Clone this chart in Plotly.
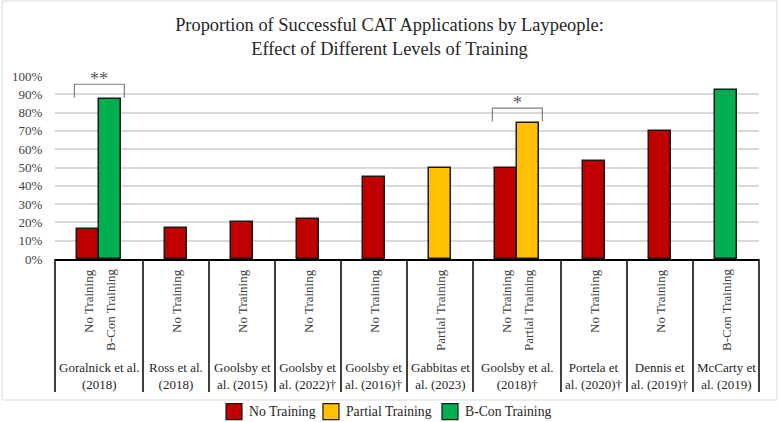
import plotly.graph_objects as go

# ---------------- data ----------------
title_lines = ["Proportion of Successful CAT Applications by Laypeople:",
               "Effect of Different Levels of Training"]
studies = ["Goralnick et al.<br>(2018)", "Ross et al.<br>(2018)", "Goolsby et<br>al. (2015)",
           "Goolsby et<br>al. (2022)†", "Goolsby et<br>al. (2016)†", "Gabbitas et<br>al. (2023)",
           "Goolsby et al.<br>(2018)†", "Portela et<br>al. (2020)†", "Dennis et<br>al. (2019)†",
           "McCarty et<br>al. (2019)"]
bar_study = [0, 0, 1, 2, 3, 4, 5, 6, 6, 7, 8, 9]
bar_level = ["No Training", "B-Con Training", "No Training", "No Training", "No Training",
             "No Training", "Partial Training", "No Training", "Partial Training",
             "No Training", "No Training", "B-Con Training"]
bar_value = [0.164, 0.875, 0.169, 0.203, 0.220, 0.447, 0.500, 0.500, 0.744, 0.537, 0.697, 0.922]
levels = ["No Training", "Partial Training", "B-Con Training"]
level_colors = {"No Training": "#C00000", "Partial Training": "#FFC000", "B-Con Training": "#00B050"}
sig_study = [0, 6]
sig_label = ["**", "*"]
y_ticks = [i / 10 for i in range(11)]

# ---------------- geometry ----------------
W, H = 779, 422
ML, MR, MT, MB = 55, 20, 76, 163
PT, PB = MT, H - MB
FONT = "Liberation Serif, Times New Roman, serif"
legend_px = [226, 323, 442]   # left edge (pixels) of each legend swatch
legend_cy = 411.7


def py(p):  # pixel y -> paper y
    return (PB - p) / (PB - PT)


def px(p):  # pixel x -> paper x
    return (p - ML) / (W - ML - MR)


counts = [bar_study.count(i) for i in range(len(studies))]
group_start = []
pos = 0
for c in counts:
    group_start.append(pos)
    pos += c + 2
total = pos
bar_x = []
seen = {}
for s in bar_study:
    k = seen.get(s, 0)
    seen[s] = k + 1
    bar_x.append(group_start[s] + 1 + k + 0.5)

fig = go.Figure()
for lv in levels:
    idx = [i for i, l in enumerate(bar_level) if l == lv]
    fig.add_trace(go.Bar(
        x=[bar_x[i] for i in idx], y=[bar_value[i] for i in idx], width=1,
        name=lv, marker=dict(color=level_colors[lv], line=dict(color="#1a1a1a", width=1.5)),
        hoverinfo="skip", showlegend=False))

shapes = []
annotations = []
# category box separators
for g in range(len(studies) + 1):
    xv = group_start[g] if g < len(studies) else total
    shapes.append(dict(type="line", xref="paper", yref="paper", x0=xv / total, x1=xv / total,
                       y0=0, y1=py(392), line=dict(color="black", width=1.5)))
# rotated bar labels
for i, s in enumerate(bar_study):
    annotations.append(dict(xref="paper", yref="paper", x=bar_x[i] / total, y=py(267),
                            text=bar_level[i], textangle=-90, showarrow=False,
                            xanchor="center", yanchor="top",
                            font=dict(family=FONT, size=13, color="#404040")))
# study labels
for g, lab in enumerate(studies):
    cx = (group_start[g] + counts[g] / 2 + 1) / total
    annotations.append(dict(xref="paper", yref="paper", x=cx, y=py(375.5), text=lab,
                            showarrow=False, xanchor="center", yanchor="middle",
                            font=dict(family=FONT, size=13, color="#262626")))
# significance brackets
for s, lab in zip(sig_study, sig_label):
    cx = group_start[s] + counts[s] / 2 + 1
    top = max(bar_value[i] for i, b in enumerate(bar_study) if b == s)
    x0, x1 = cx - 1.12, cx + 1.15
    y_leg, y_top = top + 0.008, top + 0.08
    shapes.append(dict(type="path", xref="x", yref="y",
                       path=f"M{x0},{y_leg} L{x0},{y_top} L{x1},{y_top} L{x1},{y_leg}",
                       line=dict(color="#7f7f7f", width=1.2)))
    annotations.append(dict(xref="x", yref="y", x=cx, y=y_top - 0.035, text=lab,
                            showarrow=False, yanchor="bottom",
                            font=dict(family=FONT, size=18, color="#595959")))
# legend (swatches + labels)
for lv, lx in zip(levels, legend_px):
    shapes.append(dict(type="rect", xref="paper", yref="paper", x0=px(lx), x1=px(lx + 16),
                       y0=py(legend_cy + 8), y1=py(legend_cy - 8),
                       fillcolor=level_colors[lv], line=dict(color="#1a1a1a", width=1.2)))
    annotations.append(dict(xref="paper", yref="paper", x=px(lx + 21), y=py(legend_cy),
                            text=lv, showarrow=False, xanchor="left", yanchor="middle",
                            font=dict(family=FONT, size=13.7, color="#262626")))
# outer frame
shapes.append(dict(type="rect", xref="paper", yref="paper", x0=px(2), x1=px(777),
                   y0=py(400), y1=py(1), line=dict(color="#d9d9d9", width=1), layer="below"))

fig.update_layout(
    width=W, height=H,
    margin=dict(l=ML, r=MR, t=MT, b=MB, autoexpand=False),
    paper_bgcolor="white", plot_bgcolor="white",
    font=dict(family=FONT, size=13, color="#404040"),
    showlegend=False,
    title=dict(text="<br>".join(title_lines), x=389.5 / W, xanchor="center",
               y=1 - 31 / H, yanchor="middle", font=dict(family=FONT, size=18.4, color="#262626")),
    xaxis=dict(range=[0, total], showticklabels=False, showgrid=False, zeroline=False,
               showline=True, linecolor="black", linewidth=1.5, fixedrange=True),
    yaxis=dict(range=[0, 1], tickvals=y_ticks, tickformat=".0%", showgrid=True,
               gridcolor="#d9d9d9", gridwidth=1.5, zeroline=False, showline=False,
               ticks="outside", ticklen=9, tickcolor="rgba(0,0,0,0)",
               tickfont=dict(family=FONT, size=13, color="#404040")),
    barmode="overlay",
    bargap=0,
    shapes=shapes, annotations=annotations,
)

fig.write_html("out.html")
